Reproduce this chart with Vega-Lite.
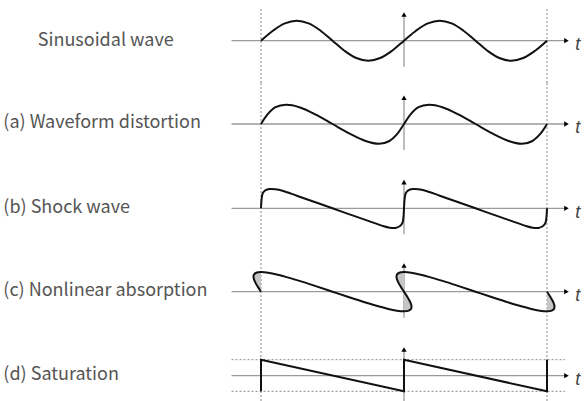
{
  "$schema": "https://vega.github.io/schema/vega-lite/v6.json",
  "padding": 0,
  "spacing": 0,
  "bounds": "flush",
  "background": "white",
  "config": {"view": {"stroke": null}, "concat": {"spacing": 0}},
  "datasets": {
    "curves": [
      {"row":0,"i":0,"t":-1,"v":0},{"row":0,"i":1,"t":-0.9167,"v":0.5},{"row":0,"i":2,"t":-0.8333,"v":0.866},{"row":0,"i":3,"t":-0.75,"v":1},{"row":0,"i":4,"t":-0.6667,"v":0.866},{"row":0,"i":5,"t":-0.5833,"v":0.5},{"row":0,"i":6,"t":-0.5,"v":0},{"row":0,"i":7,"t":-0.4167,"v":-0.5},{"row":0,"i":8,"t":-0.3333,"v":-0.866},{"row":0,"i":9,"t":-0.25,"v":-1},{"row":0,"i":10,"t":-0.1667,"v":-0.866},{"row":0,"i":11,"t":-0.0833,"v":-0.5},{"row":0,"i":12,"t":0,"v":0},{"row":0,"i":13,"t":0.0833,"v":0.5},{"row":0,"i":14,"t":0.1667,"v":0.866},{"row":0,"i":15,"t":0.25,"v":1},{"row":0,"i":16,"t":0.3333,"v":0.866},{"row":0,"i":17,"t":0.4167,"v":0.5},{"row":0,"i":18,"t":0.5,"v":0},{"row":0,"i":19,"t":0.5833,"v":-0.5},{"row":0,"i":20,"t":0.6667,"v":-0.866},{"row":0,"i":21,"t":0.75,"v":-1},{"row":0,"i":22,"t":0.8333,"v":-0.866},{"row":0,"i":23,"t":0.9167,"v":-0.5},{"row":0,"i":24,"t":1,"v":0},

      {"row":1,"i":0,"t":-1,"v":0},{"row":1,"i":1,"t":-0.9542,"v":0.485},{"row":1,"i":2,"t":-0.8983,"v":0.84},{"row":1,"i":3,"t":-0.825,"v":0.96},{"row":1,"i":4,"t":-0.7317,"v":0.84},{"row":1,"i":5,"t":-0.6208,"v":0.485},{"row":1,"i":6,"t":-0.5,"v":0},{"row":1,"i":7,"t":-0.3792,"v":-0.485},{"row":1,"i":8,"t":-0.2683,"v":-0.85},{"row":1,"i":9,"t":-0.175,"v":-0.99},{"row":1,"i":10,"t":-0.1017,"v":-0.85},{"row":1,"i":11,"t":-0.0458,"v":-0.485},{"row":1,"i":12,"t":0,"v":0},{"row":1,"i":13,"t":0.0458,"v":0.485},{"row":1,"i":14,"t":0.1017,"v":0.84},{"row":1,"i":15,"t":0.175,"v":0.96},{"row":1,"i":16,"t":0.2683,"v":0.84},{"row":1,"i":17,"t":0.3792,"v":0.485},{"row":1,"i":18,"t":0.5,"v":0},{"row":1,"i":19,"t":0.6208,"v":-0.485},{"row":1,"i":20,"t":0.7317,"v":-0.85},{"row":1,"i":21,"t":0.825,"v":-0.99},{"row":1,"i":22,"t":0.8983,"v":-0.85},{"row":1,"i":23,"t":0.9542,"v":-0.485},{"row":1,"i":24,"t":1,"v":0},

      {"row":2,"i":0,"t":-1,"v":0},{"row":2,"i":1,"t":-0.996,"v":0.45},{"row":2,"i":2,"t":-0.988,"v":0.75},{"row":2,"i":3,"t":-0.97,"v":0.9},{"row":2,"i":4,"t":-0.94,"v":0.96},{"row":2,"i":5,"t":-0.9,"v":0.95},{"row":2,"i":6,"t":-0.85,"v":0.88},{"row":2,"i":7,"t":-0.75,"v":0.63},{"row":2,"i":8,"t":-0.65,"v":0.38},{"row":2,"i":9,"t":-0.55,"v":0.13},{"row":2,"i":10,"t":-0.45,"v":-0.13},{"row":2,"i":11,"t":-0.35,"v":-0.38},{"row":2,"i":12,"t":-0.25,"v":-0.63},{"row":2,"i":13,"t":-0.15,"v":-0.88},{"row":2,"i":14,"t":-0.1,"v":-0.97},{"row":2,"i":15,"t":-0.06,"v":-0.98},{"row":2,"i":16,"t":-0.03,"v":-0.9},{"row":2,"i":17,"t":-0.012,"v":-0.75},{"row":2,"i":18,"t":-0.004,"v":-0.45},{"row":2,"i":19,"t":0,"v":0},
      {"row":2,"i":20,"t":0.004,"v":0.45},{"row":2,"i":21,"t":0.012,"v":0.75},{"row":2,"i":22,"t":0.03,"v":0.9},{"row":2,"i":23,"t":0.06,"v":0.96},{"row":2,"i":24,"t":0.1,"v":0.95},{"row":2,"i":25,"t":0.15,"v":0.88},{"row":2,"i":26,"t":0.25,"v":0.63},{"row":2,"i":27,"t":0.35,"v":0.38},{"row":2,"i":28,"t":0.45,"v":0.13},{"row":2,"i":29,"t":0.55,"v":-0.13},{"row":2,"i":30,"t":0.65,"v":-0.38},{"row":2,"i":31,"t":0.75,"v":-0.63},{"row":2,"i":32,"t":0.85,"v":-0.88},{"row":2,"i":33,"t":0.9,"v":-0.97},{"row":2,"i":34,"t":0.94,"v":-0.98},{"row":2,"i":35,"t":0.97,"v":-0.9},{"row":2,"i":36,"t":0.988,"v":-0.75},{"row":2,"i":37,"t":0.996,"v":-0.45},{"row":2,"i":38,"t":1,"v":0},

      {"row":3,"i":0,"t":-1,"v":0},{"row":3,"i":1,"t":-1.023,"v":0.254},{"row":3,"i":2,"t":-1.0417,"v":0.49},{"row":3,"i":3,"t":-1.0518,"v":0.693},{"row":3,"i":4,"t":-1.0498,"v":0.849},{"row":3,"i":5,"t":-1.0331,"v":0.947},{"row":3,"i":6,"t":-1,"v":0.98},{"row":3,"i":7,"t":-0.9498,"v":0.947},{"row":3,"i":8,"t":-0.8832,"v":0.849},{"row":3,"i":9,"t":-0.8018,"v":0.693},{"row":3,"i":10,"t":-0.7083,"v":0.49},{"row":3,"i":11,"t":-0.6064,"v":0.254},{"row":3,"i":12,"t":-0.5,"v":0},{"row":3,"i":13,"t":-0.3936,"v":-0.254},{"row":3,"i":14,"t":-0.2917,"v":-0.49},{"row":3,"i":15,"t":-0.1982,"v":-0.693},{"row":3,"i":16,"t":-0.1168,"v":-0.849},{"row":3,"i":17,"t":-0.0502,"v":-0.947},{"row":3,"i":18,"t":0,"v":-0.98},{"row":3,"i":19,"t":0.0331,"v":-0.947},{"row":3,"i":20,"t":0.0498,"v":-0.849},{"row":3,"i":21,"t":0.0518,"v":-0.693},{"row":3,"i":22,"t":0.0417,"v":-0.49},{"row":3,"i":23,"t":0.023,"v":-0.254},{"row":3,"i":24,"t":0,"v":0},
      {"row":3,"i":25,"t":-0.023,"v":0.254},{"row":3,"i":26,"t":-0.0417,"v":0.49},{"row":3,"i":27,"t":-0.0518,"v":0.693},{"row":3,"i":28,"t":-0.0498,"v":0.849},{"row":3,"i":29,"t":-0.0331,"v":0.947},{"row":3,"i":30,"t":0,"v":0.98},{"row":3,"i":31,"t":0.0502,"v":0.947},{"row":3,"i":32,"t":0.1168,"v":0.849},{"row":3,"i":33,"t":0.1982,"v":0.693},{"row":3,"i":34,"t":0.2917,"v":0.49},{"row":3,"i":35,"t":0.3936,"v":0.254},{"row":3,"i":36,"t":0.5,"v":0},{"row":3,"i":37,"t":0.6064,"v":-0.254},{"row":3,"i":38,"t":0.7083,"v":-0.49},{"row":3,"i":39,"t":0.8018,"v":-0.693},{"row":3,"i":40,"t":0.8832,"v":-0.849},{"row":3,"i":41,"t":0.9498,"v":-0.947},{"row":3,"i":42,"t":1,"v":-0.98},{"row":3,"i":43,"t":1.0331,"v":-0.947},{"row":3,"i":44,"t":1.0498,"v":-0.849},{"row":3,"i":45,"t":1.0518,"v":-0.693},{"row":3,"i":46,"t":1.0417,"v":-0.49},{"row":3,"i":47,"t":1.023,"v":-0.254},{"row":3,"i":48,"t":1,"v":0},

      {"row":4,"i":0,"t":-1,"v":-0.78},{"row":4,"i":1,"t":-1,"v":0.8},{"row":4,"i":2,"t":0,"v":-0.78},{"row":4,"i":3,"t":0,"v":0.8},{"row":4,"i":4,"t":1,"v":-0.78},{"row":4,"i":5,"t":1,"v":0.8}
    ],
    "lobes": [
      {"lobe":"A","v":0,"t":-1,"t2":-1},{"lobe":"A","v":0.254,"t":-1.023,"t2":-1},{"lobe":"A","v":0.49,"t":-1.0417,"t2":-1},{"lobe":"A","v":0.693,"t":-1.0518,"t2":-1},{"lobe":"A","v":0.849,"t":-1.0498,"t2":-1},{"lobe":"A","v":0.947,"t":-1.0331,"t2":-1},{"lobe":"A","v":0.98,"t":-1,"t2":-1},
      {"lobe":"B","v":-0.98,"t":0,"t2":0},{"lobe":"B","v":-0.947,"t":0.0331,"t2":0},{"lobe":"B","v":-0.849,"t":0.0498,"t2":0},{"lobe":"B","v":-0.693,"t":0.0518,"t2":0},{"lobe":"B","v":-0.49,"t":0.0417,"t2":0},{"lobe":"B","v":-0.254,"t":0.023,"t2":0},{"lobe":"B","v":0,"t":0,"t2":0},{"lobe":"B","v":0.254,"t":-0.023,"t2":0},{"lobe":"B","v":0.49,"t":-0.0417,"t2":0},{"lobe":"B","v":0.693,"t":-0.0518,"t2":0},{"lobe":"B","v":0.849,"t":-0.0498,"t2":0},{"lobe":"B","v":0.947,"t":-0.0331,"t2":0},{"lobe":"B","v":0.98,"t":0,"t2":0},
      {"lobe":"C","v":-0.98,"t":1,"t2":1},{"lobe":"C","v":-0.947,"t":1.0331,"t2":1},{"lobe":"C","v":-0.849,"t":1.0498,"t2":1},{"lobe":"C","v":-0.693,"t":1.0518,"t2":1},{"lobe":"C","v":-0.49,"t":1.0417,"t2":1},{"lobe":"C","v":-0.254,"t":1.023,"t2":1},{"lobe":"C","v":0,"t":1,"t2":1}
    ],
    "base": [{"t": -1.206, "t2": 1.126, "v": 0}],
    "vax": [{"t": 0, "v": 1.27, "v2": -1.3}],
    "vax4": [{"t": 0, "v": 1.27, "v2": -1.265}],
    "arrows": [{"t": 1.136, "v": 0, "shape": "triangle-right"}, {"t": 0, "v": 1.31, "shape": "triangle-up"}],
    "tlab": [{"t": 1.215, "v": -0.46, "text": "t"}],
    "labels": [
      {"row": 0, "t": -2.5612, "v": -0.25, "text": "Sinusoidal wave"},
      {"row": 1, "t": -2.8021, "v": -0.22, "text": "(a) Waveform distortion"},
      {"row": 2, "t": -2.8021, "v": -0.22, "text": "(b) Shock wave"},
      {"row": 3, "t": -2.8021, "v": -0.22, "text": "(c) Nonlinear absorption"},
      {"row": 4, "t": -2.8021, "v": -0.22, "text": "(d) Saturation"}
    ],
    "dash0": [{"t": -1, "v": 1.585, "v2": -2.115}, {"t": 1, "v": 1.585, "v2": -2.115}],
    "dash": [{"t": -1}, {"t": 1}],
    "sat": [{"t": -1.206, "t2": 1.126, "v": 0.8}, {"t": -1.206, "t2": 1.126, "v": -0.78}]
  },
  "vconcat": [
    {
      "width": 584, "height": 83,
      "layer": [
        {"data": {"name": "dash0"}, "mark": {"type": "rule", "color": "#888", "strokeWidth": 1, "strokeDash": [2, 2]},
         "encoding": {"x": {"field": "t", "type": "quantitative", "scale": {"domain": [-2.8252, 1.2587], "nice": false, "zero": false}, "axis": null},
                      "y": {"field": "v", "type": "quantitative", "scale": {"domain": [-2.115, 2.035], "nice": false, "zero": false}, "axis": null},
                      "y2": {"field": "v2"}}},
        {"data": {"name": "base"}, "mark": {"type": "rule", "color": "#9a9a9a", "strokeWidth": 1.3},
         "encoding": {"x": {"field": "t", "type": "quantitative", "scale": {"domain": [-2.8252, 1.2587], "nice": false, "zero": false}, "axis": null}, "x2": {"field": "t2"},
                      "y": {"field": "v", "type": "quantitative", "scale": {"domain": [-2.115, 2.035], "nice": false, "zero": false}, "axis": null}}},
        {"data": {"name": "vax"}, "mark": {"type": "rule", "color": "#9a9a9a", "strokeWidth": 1.3},
         "encoding": {"x": {"field": "t", "type": "quantitative", "scale": {"domain": [-2.8252, 1.2587], "nice": false, "zero": false}, "axis": null},
                      "y": {"field": "v", "type": "quantitative", "scale": {"domain": [-2.115, 2.035], "nice": false, "zero": false}, "axis": null}, "y2": {"field": "v2"}}},
        {"data": {"name": "curves"}, "transform": [{"filter": "datum.row == 0"}], "mark": {"type": "line", "color": "#111", "strokeWidth": 2, "interpolate": "catmull-rom"},
         "encoding": {"x": {"field": "t", "type": "quantitative", "scale": {"domain": [-2.8252, 1.2587], "nice": false, "zero": false}, "axis": null},
                      "y": {"field": "v", "type": "quantitative", "scale": {"domain": [-2.115, 2.035], "nice": false, "zero": false}, "axis": null},
                      "order": {"field": "i", "type": "quantitative"}}},
        {"data": {"name": "arrows"}, "mark": {"type": "point", "filled": true, "color": "#000", "size": 28, "opacity": 1},
         "encoding": {"x": {"field": "t", "type": "quantitative", "scale": {"domain": [-2.8252, 1.2587], "nice": false, "zero": false}, "axis": null},
                      "y": {"field": "v", "type": "quantitative", "scale": {"domain": [-2.115, 2.035], "nice": false, "zero": false}, "axis": null},
                      "shape": {"field": "shape", "type": "nominal", "scale": null}}},
        {"data": {"name": "tlab"}, "mark": {"type": "text", "font": "Liberation Sans", "fontStyle": "italic", "fontSize": 18, "color": "#444", "align": "center", "baseline": "alphabetic"},
         "encoding": {"x": {"field": "t", "type": "quantitative", "scale": {"domain": [-2.8252, 1.2587], "nice": false, "zero": false}, "axis": null},
                      "y": {"field": "v", "type": "quantitative", "scale": {"domain": [-2.115, 2.035], "nice": false, "zero": false}, "axis": null},
                      "text": {"field": "text"}}},
        {"data": {"name": "labels"}, "transform": [{"filter": "datum.row == 0"}], "mark": {"type": "text", "font": "Noto Sans CJK JP", "fontSize": 18, "color": "#555", "align": "left", "baseline": "alphabetic"},
         "encoding": {"x": {"field": "t", "type": "quantitative", "scale": {"domain": [-2.8252, 1.2587], "nice": false, "zero": false}, "axis": null},
                      "y": {"field": "v", "type": "quantitative", "scale": {"domain": [-2.115, 2.035], "nice": false, "zero": false}, "axis": null},
                      "text": {"field": "text"}}}
      ]
    },
    {
      "width": 584, "height": 84,
      "layer": [
        {"data": {"name": "dash"}, "mark": {"type": "rule", "color": "#888", "strokeWidth": 1, "strokeDash": [2, 2]},
         "encoding": {"x": {"field": "t", "type": "quantitative", "scale": {"domain": [-2.8252, 1.2587], "nice": false, "zero": false}, "axis": null}}},
        {"data": {"name": "base"}, "mark": {"type": "rule", "color": "#9a9a9a", "strokeWidth": 1.3},
         "encoding": {"x": {"field": "t", "type": "quantitative", "scale": {"domain": [-2.8252, 1.2587], "nice": false, "zero": false}, "axis": null}, "x2": {"field": "t2"},
                      "y": {"field": "v", "type": "quantitative", "scale": {"domain": [-2.15, 2.05], "nice": false, "zero": false}, "axis": null}}},
        {"data": {"name": "vax"}, "mark": {"type": "rule", "color": "#9a9a9a", "strokeWidth": 1.3},
         "encoding": {"x": {"field": "t", "type": "quantitative", "scale": {"domain": [-2.8252, 1.2587], "nice": false, "zero": false}, "axis": null},
                      "y": {"field": "v", "type": "quantitative", "scale": {"domain": [-2.15, 2.05], "nice": false, "zero": false}, "axis": null}, "y2": {"field": "v2"}}},
        {"data": {"name": "curves"}, "transform": [{"filter": "datum.row == 1"}], "mark": {"type": "line", "color": "#111", "strokeWidth": 2, "interpolate": "catmull-rom"},
         "encoding": {"x": {"field": "t", "type": "quantitative", "scale": {"domain": [-2.8252, 1.2587], "nice": false, "zero": false}, "axis": null},
                      "y": {"field": "v", "type": "quantitative", "scale": {"domain": [-2.15, 2.05], "nice": false, "zero": false}, "axis": null},
                      "order": {"field": "i", "type": "quantitative"}}},
        {"data": {"name": "arrows"}, "mark": {"type": "point", "filled": true, "color": "#000", "size": 28, "opacity": 1},
         "encoding": {"x": {"field": "t", "type": "quantitative", "scale": {"domain": [-2.8252, 1.2587], "nice": false, "zero": false}, "axis": null},
                      "y": {"field": "v", "type": "quantitative", "scale": {"domain": [-2.15, 2.05], "nice": false, "zero": false}, "axis": null},
                      "shape": {"field": "shape", "type": "nominal", "scale": null}}},
        {"data": {"name": "tlab"}, "mark": {"type": "text", "font": "Liberation Sans", "fontStyle": "italic", "fontSize": 18, "color": "#444", "align": "center", "baseline": "alphabetic"},
         "encoding": {"x": {"field": "t", "type": "quantitative", "scale": {"domain": [-2.8252, 1.2587], "nice": false, "zero": false}, "axis": null},
                      "y": {"field": "v", "type": "quantitative", "scale": {"domain": [-2.15, 2.05], "nice": false, "zero": false}, "axis": null},
                      "text": {"field": "text"}}},
        {"data": {"name": "labels"}, "transform": [{"filter": "datum.row == 1"}], "mark": {"type": "text", "font": "Noto Sans CJK JP", "fontSize": 18, "color": "#555", "align": "left", "baseline": "alphabetic"},
         "encoding": {"x": {"field": "t", "type": "quantitative", "scale": {"domain": [-2.8252, 1.2587], "nice": false, "zero": false}, "axis": null},
                      "y": {"field": "v", "type": "quantitative", "scale": {"domain": [-2.15, 2.05], "nice": false, "zero": false}, "axis": null},
                      "text": {"field": "text"}}}
      ]
    },
    {
      "width": 584, "height": 84,
      "layer": [
        {"data": {"name": "dash"}, "mark": {"type": "rule", "color": "#888", "strokeWidth": 1, "strokeDash": [2, 2]},
         "encoding": {"x": {"field": "t", "type": "quantitative", "scale": {"domain": [-2.8252, 1.2587], "nice": false, "zero": false}, "axis": null}}},
        {"data": {"name": "base"}, "mark": {"type": "rule", "color": "#9a9a9a", "strokeWidth": 1.3},
         "encoding": {"x": {"field": "t", "type": "quantitative", "scale": {"domain": [-2.8252, 1.2587], "nice": false, "zero": false}, "axis": null}, "x2": {"field": "t2"},
                      "y": {"field": "v", "type": "quantitative", "scale": {"domain": [-2.135, 2.065], "nice": false, "zero": false}, "axis": null}}},
        {"data": {"name": "vax"}, "mark": {"type": "rule", "color": "#9a9a9a", "strokeWidth": 1.3},
         "encoding": {"x": {"field": "t", "type": "quantitative", "scale": {"domain": [-2.8252, 1.2587], "nice": false, "zero": false}, "axis": null},
                      "y": {"field": "v", "type": "quantitative", "scale": {"domain": [-2.135, 2.065], "nice": false, "zero": false}, "axis": null}, "y2": {"field": "v2"}}},
        {"data": {"name": "curves"}, "transform": [{"filter": "datum.row == 2"}], "mark": {"type": "line", "color": "#111", "strokeWidth": 2, "interpolate": "catmull-rom"},
         "encoding": {"x": {"field": "t", "type": "quantitative", "scale": {"domain": [-2.8252, 1.2587], "nice": false, "zero": false}, "axis": null},
                      "y": {"field": "v", "type": "quantitative", "scale": {"domain": [-2.135, 2.065], "nice": false, "zero": false}, "axis": null},
                      "order": {"field": "i", "type": "quantitative"}}},
        {"data": {"name": "arrows"}, "mark": {"type": "point", "filled": true, "color": "#000", "size": 28, "opacity": 1},
         "encoding": {"x": {"field": "t", "type": "quantitative", "scale": {"domain": [-2.8252, 1.2587], "nice": false, "zero": false}, "axis": null},
                      "y": {"field": "v", "type": "quantitative", "scale": {"domain": [-2.135, 2.065], "nice": false, "zero": false}, "axis": null},
                      "shape": {"field": "shape", "type": "nominal", "scale": null}}},
        {"data": {"name": "tlab"}, "mark": {"type": "text", "font": "Liberation Sans", "fontStyle": "italic", "fontSize": 18, "color": "#444", "align": "center", "baseline": "alphabetic"},
         "encoding": {"x": {"field": "t", "type": "quantitative", "scale": {"domain": [-2.8252, 1.2587], "nice": false, "zero": false}, "axis": null},
                      "y": {"field": "v", "type": "quantitative", "scale": {"domain": [-2.135, 2.065], "nice": false, "zero": false}, "axis": null},
                      "text": {"field": "text"}}},
        {"data": {"name": "labels"}, "transform": [{"filter": "datum.row == 2"}], "mark": {"type": "text", "font": "Noto Sans CJK JP", "fontSize": 18, "color": "#555", "align": "left", "baseline": "alphabetic"},
         "encoding": {"x": {"field": "t", "type": "quantitative", "scale": {"domain": [-2.8252, 1.2587], "nice": false, "zero": false}, "axis": null},
                      "y": {"field": "v", "type": "quantitative", "scale": {"domain": [-2.135, 2.065], "nice": false, "zero": false}, "axis": null},
                      "text": {"field": "text"}}}
      ]
    },
    {
      "width": 584, "height": 84,
      "layer": [
        {"data": {"name": "dash"}, "mark": {"type": "rule", "color": "#888", "strokeWidth": 1, "strokeDash": [2, 2]},
         "encoding": {"x": {"field": "t", "type": "quantitative", "scale": {"domain": [-2.8252, 1.2587], "nice": false, "zero": false}, "axis": null}}},
        {"data": {"name": "base"}, "mark": {"type": "rule", "color": "#9a9a9a", "strokeWidth": 1.3},
         "encoding": {"x": {"field": "t", "type": "quantitative", "scale": {"domain": [-2.8252, 1.2587], "nice": false, "zero": false}, "axis": null}, "x2": {"field": "t2"},
                      "y": {"field": "v", "type": "quantitative", "scale": {"domain": [-2.165, 2.035], "nice": false, "zero": false}, "axis": null}}},
        {"data": {"name": "vax"}, "mark": {"type": "rule", "color": "#9a9a9a", "strokeWidth": 1.3},
         "encoding": {"x": {"field": "t", "type": "quantitative", "scale": {"domain": [-2.8252, 1.2587], "nice": false, "zero": false}, "axis": null},
                      "y": {"field": "v", "type": "quantitative", "scale": {"domain": [-2.165, 2.035], "nice": false, "zero": false}, "axis": null}, "y2": {"field": "v2"}}},
        {"data": {"name": "lobes"}, "mark": {"type": "area", "orient": "horizontal", "color": "#c6c6c6", "opacity": 1, "interpolate": "catmull-rom"},
         "encoding": {"x": {"field": "t", "type": "quantitative", "scale": {"domain": [-2.8252, 1.2587], "nice": false, "zero": false}, "axis": null}, "x2": {"field": "t2"},
                      "y": {"field": "v", "type": "quantitative", "scale": {"domain": [-2.165, 2.035], "nice": false, "zero": false}, "axis": null},
                      "detail": {"field": "lobe", "type": "nominal"}}},
        {"data": {"name": "curves"}, "transform": [{"filter": "datum.row == 3"}], "mark": {"type": "line", "color": "#111", "strokeWidth": 2, "interpolate": "catmull-rom"},
         "encoding": {"x": {"field": "t", "type": "quantitative", "scale": {"domain": [-2.8252, 1.2587], "nice": false, "zero": false}, "axis": null},
                      "y": {"field": "v", "type": "quantitative", "scale": {"domain": [-2.165, 2.035], "nice": false, "zero": false}, "axis": null},
                      "order": {"field": "i", "type": "quantitative"}}},
        {"data": {"name": "arrows"}, "mark": {"type": "point", "filled": true, "color": "#000", "size": 28, "opacity": 1},
         "encoding": {"x": {"field": "t", "type": "quantitative", "scale": {"domain": [-2.8252, 1.2587], "nice": false, "zero": false}, "axis": null},
                      "y": {"field": "v", "type": "quantitative", "scale": {"domain": [-2.165, 2.035], "nice": false, "zero": false}, "axis": null},
                      "shape": {"field": "shape", "type": "nominal", "scale": null}}},
        {"data": {"name": "tlab"}, "mark": {"type": "text", "font": "Liberation Sans", "fontStyle": "italic", "fontSize": 18, "color": "#444", "align": "center", "baseline": "alphabetic"},
         "encoding": {"x": {"field": "t", "type": "quantitative", "scale": {"domain": [-2.8252, 1.2587], "nice": false, "zero": false}, "axis": null},
                      "y": {"field": "v", "type": "quantitative", "scale": {"domain": [-2.165, 2.035], "nice": false, "zero": false}, "axis": null},
                      "text": {"field": "text"}}},
        {"data": {"name": "labels"}, "transform": [{"filter": "datum.row == 3"}], "mark": {"type": "text", "font": "Noto Sans CJK JP", "fontSize": 18, "color": "#555", "align": "left", "baseline": "alphabetic"},
         "encoding": {"x": {"field": "t", "type": "quantitative", "scale": {"domain": [-2.8252, 1.2587], "nice": false, "zero": false}, "axis": null},
                      "y": {"field": "v", "type": "quantitative", "scale": {"domain": [-2.165, 2.035], "nice": false, "zero": false}, "axis": null},
                      "text": {"field": "text"}}}
      ]
    },
    {
      "width": 584, "height": 66,
      "layer": [
        {"data": {"name": "dash"}, "mark": {"type": "rule", "color": "#888", "strokeWidth": 1, "strokeDash": [2, 2]},
         "encoding": {"x": {"field": "t", "type": "quantitative", "scale": {"domain": [-2.8252, 1.2587], "nice": false, "zero": false}, "axis": null}}},
        {"data": {"name": "sat"}, "mark": {"type": "rule", "color": "#888", "strokeWidth": 1, "strokeDash": [2, 2]},
         "encoding": {"x": {"field": "t", "type": "quantitative", "scale": {"domain": [-2.8252, 1.2587], "nice": false, "zero": false}, "axis": null}, "x2": {"field": "t2"},
                      "y": {"field": "v", "type": "quantitative", "scale": {"domain": [-1.265, 2.035], "nice": false, "zero": false}, "axis": null}}},
        {"data": {"name": "base"}, "mark": {"type": "rule", "color": "#9a9a9a", "strokeWidth": 1.3},
         "encoding": {"x": {"field": "t", "type": "quantitative", "scale": {"domain": [-2.8252, 1.2587], "nice": false, "zero": false}, "axis": null}, "x2": {"field": "t2"},
                      "y": {"field": "v", "type": "quantitative", "scale": {"domain": [-1.265, 2.035], "nice": false, "zero": false}, "axis": null}}},
        {"data": {"name": "vax4"}, "mark": {"type": "rule", "color": "#9a9a9a", "strokeWidth": 1.3},
         "encoding": {"x": {"field": "t", "type": "quantitative", "scale": {"domain": [-2.8252, 1.2587], "nice": false, "zero": false}, "axis": null},
                      "y": {"field": "v", "type": "quantitative", "scale": {"domain": [-1.265, 2.035], "nice": false, "zero": false}, "axis": null}, "y2": {"field": "v2"}}},
        {"data": {"name": "curves"}, "transform": [{"filter": "datum.row == 4"}], "mark": {"type": "line", "color": "#111", "strokeWidth": 2, "interpolate": "linear"},
         "encoding": {"x": {"field": "t", "type": "quantitative", "scale": {"domain": [-2.8252, 1.2587], "nice": false, "zero": false}, "axis": null},
                      "y": {"field": "v", "type": "quantitative", "scale": {"domain": [-1.265, 2.035], "nice": false, "zero": false}, "axis": null},
                      "order": {"field": "i", "type": "quantitative"}}},
        {"data": {"name": "arrows"}, "mark": {"type": "point", "filled": true, "color": "#000", "size": 28, "opacity": 1},
         "encoding": {"x": {"field": "t", "type": "quantitative", "scale": {"domain": [-2.8252, 1.2587], "nice": false, "zero": false}, "axis": null},
                      "y": {"field": "v", "type": "quantitative", "scale": {"domain": [-1.265, 2.035], "nice": false, "zero": false}, "axis": null},
                      "shape": {"field": "shape", "type": "nominal", "scale": null}}},
        {"data": {"name": "tlab"}, "mark": {"type": "text", "font": "Liberation Sans", "fontStyle": "italic", "fontSize": 18, "color": "#444", "align": "center", "baseline": "alphabetic"},
         "encoding": {"x": {"field": "t", "type": "quantitative", "scale": {"domain": [-2.8252, 1.2587], "nice": false, "zero": false}, "axis": null},
                      "y": {"field": "v", "type": "quantitative", "scale": {"domain": [-1.265, 2.035], "nice": false, "zero": false}, "axis": null},
                      "text": {"field": "text"}}},
        {"data": {"name": "labels"}, "transform": [{"filter": "datum.row == 4"}], "mark": {"type": "text", "font": "Noto Sans CJK JP", "fontSize": 18, "color": "#555", "align": "left", "baseline": "alphabetic"},
         "encoding": {"x": {"field": "t", "type": "quantitative", "scale": {"domain": [-2.8252, 1.2587], "nice": false, "zero": false}, "axis": null},
                      "y": {"field": "v", "type": "quantitative", "scale": {"domain": [-1.265, 2.035], "nice": false, "zero": false}, "axis": null},
                      "text": {"field": "text"}}}
      ]
    }
  ]
}
